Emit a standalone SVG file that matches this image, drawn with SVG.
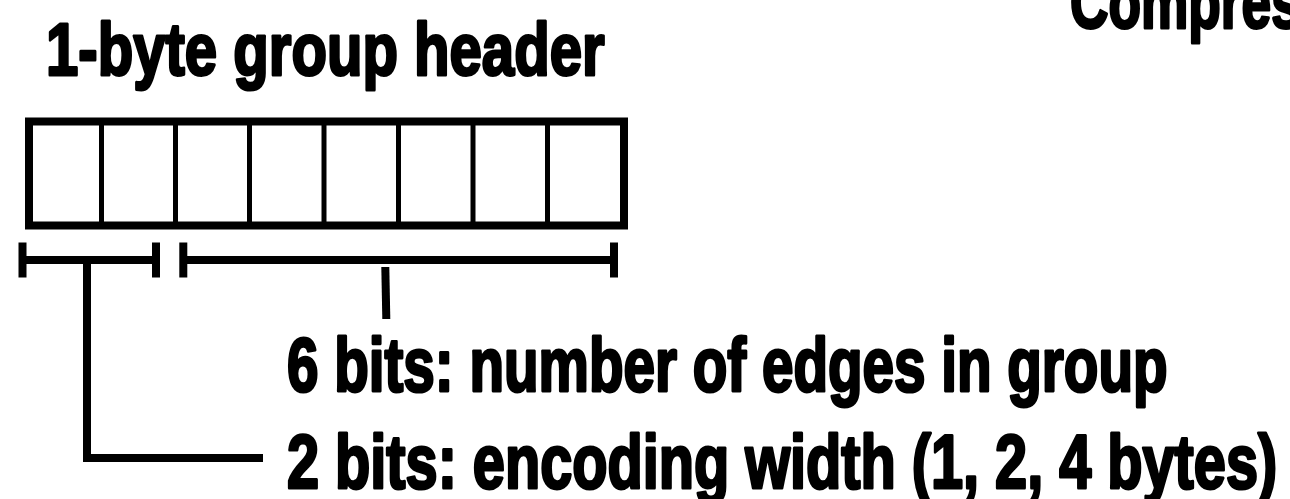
<svg xmlns="http://www.w3.org/2000/svg" width="1290" height="499" viewBox="0 0 1290 499">
<style>
.t{font-family:"Liberation Sans",Arial,sans-serif;font-weight:bold;fill:#000;stroke:#000;stroke-width:3;stroke-linejoin:round}
.k{stroke:#000;fill:none;stroke-width:8;stroke-linejoin:miter;stroke-linecap:butt}
.d{stroke:#000;stroke-width:5}
</style>
<rect width="1290" height="499" fill="#fff"/>
<g id="title"><text class="t" transform="translate(46,75) scale(0.775,1)" font-size="75">1-byte group header</text></g>
<g id="top-label"><text class="t" transform="translate(1070,28) scale(0.71,1)" font-size="75">Compres</text></g>
<g id="header-byte">
<rect class="k" x="29" y="121.5" width="595" height="104"/>
<g class="d">
<line x1="101.5" y1="125" x2="101.5" y2="222"/>
<line x1="175.5" y1="125" x2="175.5" y2="222"/>
<line x1="249.5" y1="125" x2="249.5" y2="222"/>
<line x1="324" y1="125" x2="324" y2="222"/>
<line x1="398.5" y1="125" x2="398.5" y2="222"/>
<line x1="473" y1="125" x2="473" y2="222"/>
<line x1="547.5" y1="125" x2="547.5" y2="222"/>
</g>
</g>
<g id="bracket-2bits">
<path class="k" d="M22.5,242.5V277.5M156,242.5V277.5M22.5,260H156"/>
</g>
<g id="bracket-6bits">
<path class="k" d="M183.3,242.5V277.5M614,242.5V277.5M183.3,260H614"/>
</g>
<g id="connectors">
<path class="k" d="M87,264V458H263"/>
<path class="k" stroke-width="7.5" d="M385.3,267L386.3,319"/>
</g>
<g id="label-6bits"><text class="t" transform="translate(287,391) scale(0.745,1)" font-size="76">6 bits: number of edges in group</text></g>
<g id="label-2bits"><text class="t" transform="translate(287,488) scale(0.759,1)" font-size="76">2 bits: encoding width (1, 2, 4 bytes)</text></g>
</svg>
